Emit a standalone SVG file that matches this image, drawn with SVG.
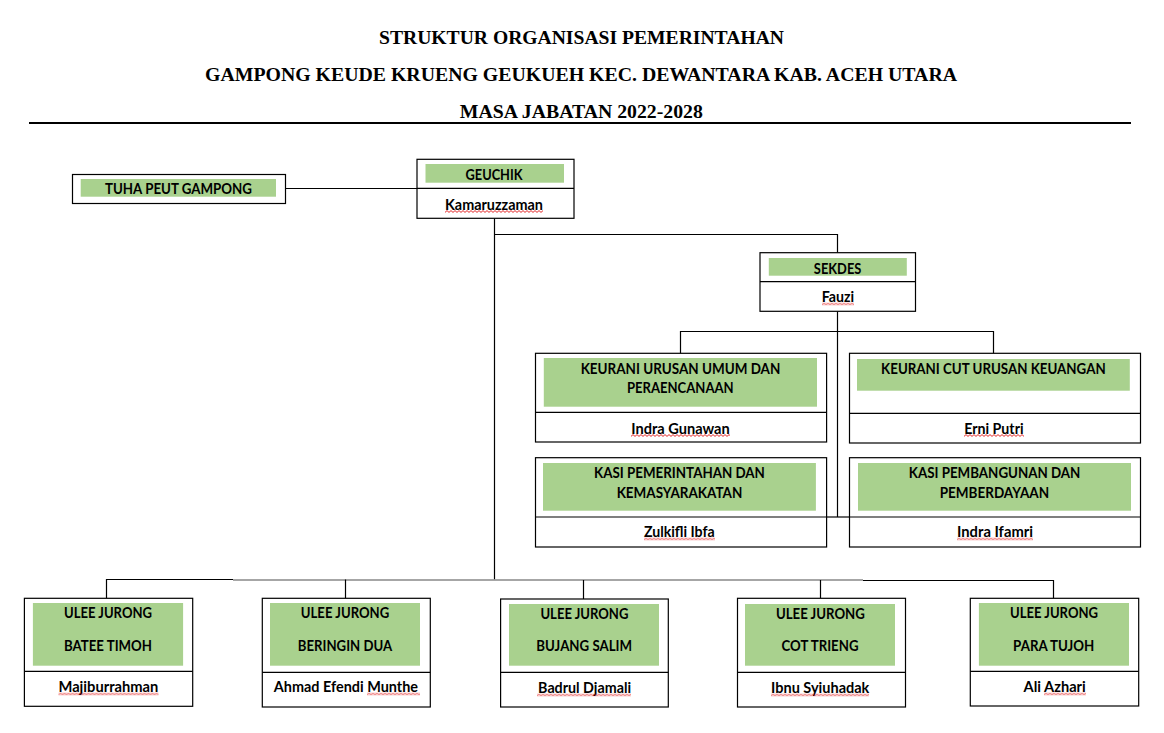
<svg xmlns="http://www.w3.org/2000/svg" width="1164" height="733" viewBox="0 0 1164 733">
<style>
.bx{fill:#fff;stroke:#000;stroke-width:1.2}
.dv{stroke:#000;stroke-width:1.2}
.gr{fill:#A9D18E}
.t{font-family:"Liberation Serif","Times New Roman",serif;font-weight:bold;font-size:19.5px;fill:#000;text-anchor:middle}
.l{font-family:Lato,"Open Sans","Liberation Sans",sans-serif;font-weight:bold;font-size:14.3px;fill:#000;text-anchor:middle}
.c{stroke:#000;stroke-width:1.2;fill:none}
.cg{stroke:#888;stroke-width:1.6;fill:none}
</style>
<defs>
<pattern id="sq" patternUnits="userSpaceOnUse" width="4" height="3">
<path d="M0 2.4 L2 0.6 L4 2.4" stroke="#e01010" stroke-width="0.9" fill="none"/>
</pattern>
</defs>
<rect width="1164" height="733" fill="#fff"/>
<g id="title">
<text class="t" x="581.5" y="43.5" textLength="405" lengthAdjust="spacingAndGlyphs">STRUKTUR ORGANISASI PEMERINTAHAN</text>
<text class="t" x="581" y="80.5" textLength="752" lengthAdjust="spacingAndGlyphs">GAMPONG KEUDE KRUENG GEUKUEH KEC. DEWANTARA KAB. ACEH UTARA</text>
<text class="t" x="581.3" y="117.5" textLength="243" lengthAdjust="spacingAndGlyphs">MASA JABATAN 2022-2028</text>
<line x1="29" y1="123" x2="1131" y2="123" stroke="#000" stroke-width="2.2"/>
</g>
<g id="connectors">
<path class="c" d="M285.5 188.5 H417"/>
<path class="c" d="M494.5 218.3 V579.5"/>
<path class="c" d="M494.5 234.5 H837.5 V252.7"/>
<path class="c" d="M837.5 311.3 V517"/>
<path class="c" d="M680.5 353.3 V331.5 H993.5 V353.3"/>
<path class="c" d="M826.6 517 H849.5"/>
<path class="c" d="M106.5 598.3 V579.5 H233"/>
<path class="cg" d="M233 580 H863"/>
<path class="c" d="M863 580.5 H1053.5 V598.3"/>
<path class="c" d="M345.5 579.5 V598.3"/>
<path class="c" d="M583.5 580 V599"/>
<path class="c" d="M820.5 580 V598.3"/>
</g>
<g id="tuha">
<rect class="bx" x="72.5" y="174.5" width="213" height="29"/>
<rect class="gr" x="80.7" y="179" width="195.3" height="17.7"/>
<text class="l" x="178.5" y="194" textLength="147" lengthAdjust="spacingAndGlyphs">TUHA PEUT GAMPONG</text>
</g>
<g id="geuchik">
<rect class="bx" x="417" y="159.3" width="157" height="59"/>
<line class="dv" x1="417" y1="188.3" x2="574" y2="188.3"/>
<rect class="gr" x="425.5" y="164" width="138.5" height="18.7"/>
<text class="l" x="494" y="180" textLength="57" lengthAdjust="spacingAndGlyphs">GEUCHIK</text>
<text class="l" x="494" y="209.5" textLength="98" lengthAdjust="spacingAndGlyphs">Kamaruzzaman</text>
<rect transform="translate(445 210)" width="98" height="3" fill="url(#sq)"/>
</g>
<g id="sekdes">
<rect class="bx" x="760" y="252.7" width="155.5" height="58.6"/>
<line class="dv" x1="760" y1="281.7" x2="915.5" y2="281.7"/>
<rect class="gr" x="768.8" y="258" width="138" height="17.7"/>
<text class="l" x="837.6" y="273.5" textLength="47.5" lengthAdjust="spacingAndGlyphs">SEKDES</text>
<text class="l" x="838" y="302" textLength="32.4" lengthAdjust="spacingAndGlyphs">Fauzi</text>
<rect transform="translate(822 302.5)" width="32" height="3" fill="url(#sq)"/>
</g>
<g id="keurani-umum">
<rect class="bx" x="535.5" y="353.3" width="291.1" height="88.7"/>
<line class="dv" x1="535.5" y1="412.3" x2="826.6" y2="412.3"/>
<rect class="gr" x="543.8" y="358" width="273.2" height="48.7"/>
<text class="l" x="680.5" y="373.5" textLength="199.7" lengthAdjust="spacingAndGlyphs">KEURANI URUSAN UMUM DAN</text>
<text class="l" x="680.3" y="393" textLength="106.7" lengthAdjust="spacingAndGlyphs">PERAENCANAAN</text>
<text class="l" x="680.5" y="433.5" textLength="98.5" lengthAdjust="spacingAndGlyphs">Indra Gunawan</text>
<rect transform="translate(631 434)" width="99" height="3" fill="url(#sq)"/>
</g>
<g id="keurani-keuangan">
<rect class="bx" x="849.5" y="353.3" width="291" height="89.7"/>
<line class="dv" x1="849.5" y1="413.3" x2="1140.5" y2="413.3"/>
<rect class="gr" x="857" y="359" width="272.8" height="31.7"/>
<text class="l" x="993.4" y="374" textLength="224.6" lengthAdjust="spacingAndGlyphs">KEURANI CUT URUSAN KEUANGAN</text>
<text class="l" x="993.9" y="433.5" textLength="59.3" lengthAdjust="spacingAndGlyphs">Erni Putri</text>
<rect transform="translate(964 434)" width="60" height="3" fill="url(#sq)"/>
</g>
<g id="kasi-pemerintahan">
<rect class="bx" x="535.5" y="457.7" width="291.1" height="89.3"/>
<line class="dv" x1="535.5" y1="517" x2="826.6" y2="517"/>
<rect class="gr" x="543" y="463" width="272.9" height="47.7"/>
<text class="l" x="679.5" y="478" textLength="170.8" lengthAdjust="spacingAndGlyphs">KASI PEMERINTAHAN DAN</text>
<text class="l" x="679.5" y="498" textLength="125.7" lengthAdjust="spacingAndGlyphs">KEMASYARAKATAN</text>
<text class="l" x="679.3" y="537" textLength="70.8" lengthAdjust="spacingAndGlyphs">Zulkifli Ibfa</text>
<rect transform="translate(644 537.5)" width="71" height="3" fill="url(#sq)"/>
</g>
<g id="kasi-pembangunan">
<rect class="bx" x="849.5" y="457.7" width="291" height="89.3"/>
<line class="dv" x1="849.5" y1="517" x2="1140.5" y2="517"/>
<rect class="gr" x="858" y="463" width="273" height="47.7"/>
<text class="l" x="994.6" y="478" textLength="171.6" lengthAdjust="spacingAndGlyphs">KASI PEMBANGUNAN DAN</text>
<text class="l" x="994.4" y="498" textLength="109.5" lengthAdjust="spacingAndGlyphs">PEMBERDAYAAN</text>
<text class="l" x="995" y="537" textLength="76" lengthAdjust="spacingAndGlyphs">Indra Ifamri</text>
<rect transform="translate(957 537.5)" width="76" height="3" fill="url(#sq)"/>
</g>
<g id="ulee-batee-timoh">
<rect class="bx" x="24.4" y="598.3" width="168.3" height="108"/>
<line class="dv" x1="24.4" y1="671.3" x2="192.7" y2="671.3"/>
<rect class="gr" x="32.9" y="603" width="150.2" height="62.7"/>
<text class="l" x="108" y="618" textLength="88" lengthAdjust="spacingAndGlyphs">ULEE JURONG</text>
<text class="l" x="108" y="650.5" textLength="88" lengthAdjust="spacingAndGlyphs">BATEE TIMOH</text>
<text class="l" x="108.4" y="692" textLength="99.9" lengthAdjust="spacingAndGlyphs">Majiburrahman</text>
<rect transform="translate(58.5 692.5)" width="100" height="3" fill="url(#sq)"/>
</g>
<g id="ulee-beringin-dua">
<rect class="bx" x="262.3" y="598.3" width="168" height="108.7"/>
<line class="dv" x1="262.3" y1="672.3" x2="430.3" y2="672.3"/>
<rect class="gr" x="270" y="603" width="150" height="62.7"/>
<text class="l" x="345" y="618" textLength="88.4" lengthAdjust="spacingAndGlyphs">ULEE JURONG</text>
<text class="l" x="345" y="650.5" textLength="94.3" lengthAdjust="spacingAndGlyphs">BERINGIN DUA</text>
<text class="l" x="345.9" y="692" textLength="144.3" lengthAdjust="spacingAndGlyphs">Ahmad Efendi Munthe</text>
<rect transform="translate(367 692.5)" width="53" height="3" fill="url(#sq)"/>
</g>
<g id="ulee-bujang-salim">
<rect class="bx" x="500.6" y="599" width="167.7" height="108"/>
<line class="dv" x1="500.6" y1="672.3" x2="668.3" y2="672.3"/>
<rect class="gr" x="509" y="604" width="150" height="61.7"/>
<text class="l" x="584.4" y="619" textLength="88" lengthAdjust="spacingAndGlyphs">ULEE JURONG</text>
<text class="l" x="584.2" y="651" textLength="95.7" lengthAdjust="spacingAndGlyphs">BUJANG SALIM</text>
<text class="l" x="584.6" y="693" textLength="93" lengthAdjust="spacingAndGlyphs">Badrul Djamali</text>
<rect transform="translate(537 693.5)" width="94" height="3" fill="url(#sq)"/>
</g>
<g id="ulee-cot-trieng">
<rect class="bx" x="737.5" y="598.3" width="168" height="108.7"/>
<line class="dv" x1="737.5" y1="672.3" x2="905.5" y2="672.3"/>
<rect class="gr" x="745" y="604" width="150" height="61.7"/>
<text class="l" x="820.4" y="619" textLength="89" lengthAdjust="spacingAndGlyphs">ULEE JURONG</text>
<text class="l" x="820" y="651" textLength="77" lengthAdjust="spacingAndGlyphs">COT TRIENG</text>
<text class="l" x="820.2" y="693" textLength="98.3" lengthAdjust="spacingAndGlyphs">Ibnu Syiuhadak</text>
<rect transform="translate(771 693.5)" width="98" height="3" fill="url(#sq)"/>
</g>
<g id="ulee-para-tujoh">
<rect class="bx" x="970.3" y="598.3" width="168.4" height="107.7"/>
<line class="dv" x1="970.3" y1="671.3" x2="1138.7" y2="671.3"/>
<rect class="gr" x="978.9" y="603" width="150.1" height="62.7"/>
<text class="l" x="1054" y="618" textLength="88" lengthAdjust="spacingAndGlyphs">ULEE JURONG</text>
<text class="l" x="1053.7" y="650.5" textLength="81.2" lengthAdjust="spacingAndGlyphs">PARA TUJOH</text>
<text class="l" x="1054.7" y="692" textLength="62.2" lengthAdjust="spacingAndGlyphs">Ali Azhari</text>
<rect transform="translate(1044 692.5)" width="42" height="3" fill="url(#sq)"/>
</g>
</svg>
